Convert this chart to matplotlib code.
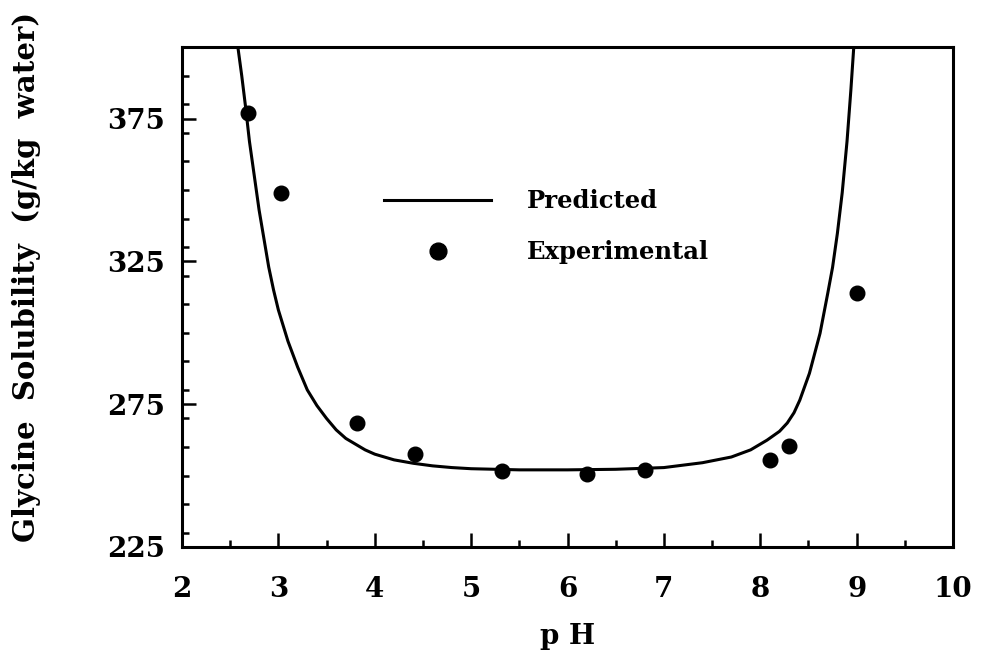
import matplotlib.pyplot as plt
from matplotlib.ticker import MultipleLocator

# curva prevista
ph_pred = [2.58, 2.62, 2.66, 2.70, 2.75, 2.80, 2.85, 2.90, 2.95, 3.00, 3.10,
           3.20, 3.30, 3.40, 3.50, 3.60, 3.70, 3.80, 3.90, 4.00, 4.20, 4.40,
           4.60, 4.80, 5.00, 5.50, 6.00, 6.50, 7.00, 7.40, 7.70, 7.90, 8.07,
           8.20, 8.28, 8.35, 8.41, 8.51, 8.62, 8.70, 8.75, 8.80, 8.85, 8.90,
           8.94, 8.97]
sol_pred = [400, 390, 379, 367, 355, 343, 333, 323, 315, 308, 297,
            288, 280, 274.5, 270, 266, 263, 261, 259, 257.5, 255.5, 254.3,
            253.4, 252.8, 252.4, 252, 252, 252.2, 252.8, 254.5, 256.5, 259, 262.4,
            265.5, 268.4, 272, 276.4, 285.8, 299.8, 313.8, 322.9, 334.8, 349, 367,
            385, 400]

# pontos experimentais
ph_exp = [2.68, 3.03, 3.82, 4.42, 5.32, 6.20, 6.80, 8.10, 8.30, 9.00]
sol_exp = [377, 349, 268.5, 257.5, 251.5, 250.5, 252, 255.5, 260.5, 314]

xticks = [2, 3, 4, 5, 6, 7, 8, 9, 10]
yticks = [225, 275, 325, 375]

plt.rcParams['font.family'] = 'DejaVu Serif'
plt.rcParams['font.weight'] = 'bold'

fig = plt.figure(figsize=(9.81, 6.5), dpi=100)
ax = fig.add_axes([0.1855, 0.1585, 0.786, 0.769])

ax.plot(ph_pred, sol_pred, color='black', lw=2.2, label='Predicted')
ax.plot(ph_exp, sol_exp, 'o', color='black', ms=10.5, label='Experimental')

ax.set_xlim(2, 10)
ax.set_ylim(225, 400)
ax.set_xticks(xticks)
ax.set_yticks(yticks)
ax.xaxis.set_minor_locator(MultipleLocator(0.5))
ax.yaxis.set_minor_locator(MultipleLocator(10))

for s in ax.spines.values():
    s.set_linewidth(2.2)

ax.tick_params(which='both', direction='in', top=False, right=False, width=1.8)
ax.tick_params(which='major', length=10)
ax.tick_params(which='minor', length=5)
ax.tick_params(axis='x', which='major', pad=21, labelsize=20)
ax.tick_params(axis='y', which='major', pad=12, labelsize=20)

ax.set_xlabel('p H', fontsize=20, fontweight='bold', labelpad=14)
ax.set_ylabel('Glycine  Solubility  (g/kg  water)', fontsize=21, fontweight='bold')
ax.yaxis.set_label_coords(-0.183, 0.54)

ax.legend(loc='upper left', bbox_to_anchor=(0.25, 0.735), frameon=False,
          fontsize=17.5, handlelength=4.4, handletextpad=1.45, labelspacing=1.1,
          markerscale=1.15, borderaxespad=0)

plt.savefig('out.png', dpi=100)
plt.close()
